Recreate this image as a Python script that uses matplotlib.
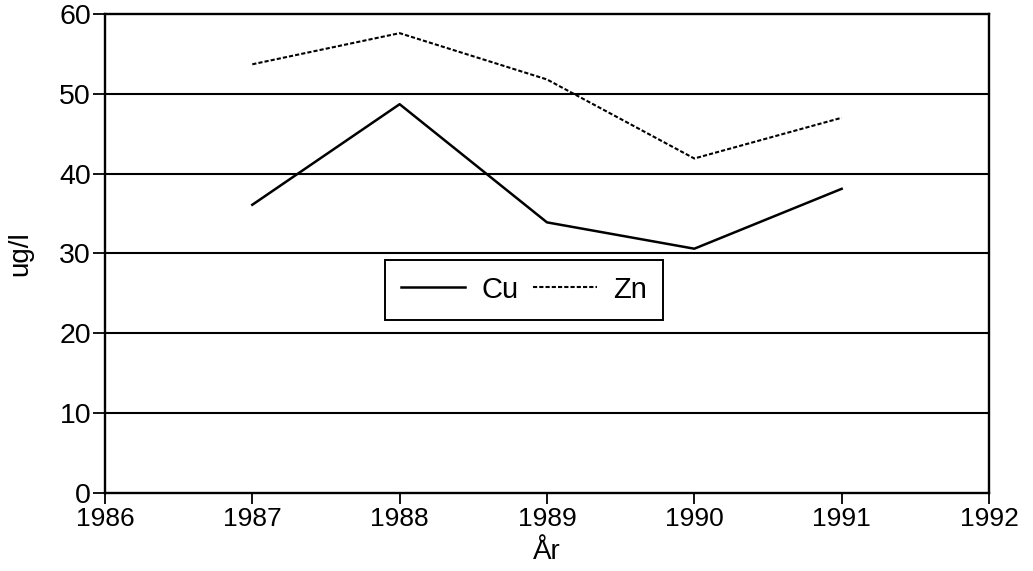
import matplotlib.pyplot as plt

# Data
years = [1987, 1988, 1989, 1990, 1991]
cu = [36.1, 48.7, 33.9, 30.6, 38.1]
zn = [53.7, 57.6, 51.8, 41.9, 47.0]

x_ticks = [1986, 1987, 1988, 1989, 1990, 1991, 1992]
y_ticks = [0, 10, 20, 30, 40, 50, 60]

plt.rcParams['font.family'] = ['Liberation Sans', 'DejaVu Sans']

fig = plt.figure(figsize=(10.33, 5.71), dpi=100)
ax = fig.add_axes([0.1016, 0.1366, 0.8558, 0.8389])

# horizontal grid lines
for y in y_ticks[1:-1]:
    ax.axhline(y, color='black', lw=1.5, zorder=1)

ax.plot(years, cu, color='black', lw=1.8, label='Cu', zorder=3)
ax.plot(years, zn, color='black', lw=1.5, linestyle=(0, (2, 1)), label='Zn', zorder=3)

ax.set_xlim(1986, 1992)
ax.set_ylim(0, 60)
ax.set_xticks(x_ticks)
ax.set_yticks(y_ticks)
ax.tick_params(axis='x', direction='out', length=8, width=1.3, pad=2, labelsize=19)
ax.tick_params(axis='y', direction='out', length=9, width=1.3, pad=1, labelsize=20.5)

for s in ax.spines.values():
    s.set_linewidth(1.7)
    s.set_color('black')

ax.set_xlabel('År', fontsize=20, labelpad=6)
ax.set_ylabel('ug/l', fontsize=20, labelpad=19)

leg = ax.legend(loc='center', bbox_to_anchor=(0.474, 0.4245), ncol=2, fontsize=21,
                frameon=True, fancybox=False, edgecolor='black', framealpha=1,
                handlelength=2.2, handletextpad=0.55, columnspacing=0.5,
                borderpad=0.55)
leg.get_frame().set_linewidth(1.4)

fig.savefig('out.png', dpi=100)
